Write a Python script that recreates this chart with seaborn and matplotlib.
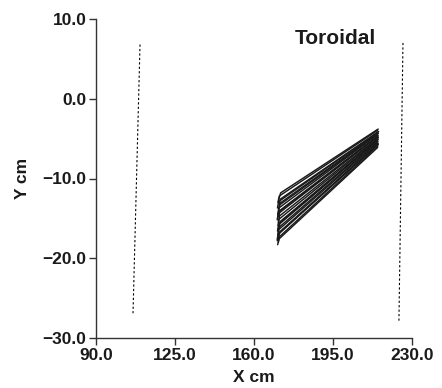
import numpy as np
import pandas as pd
import matplotlib
matplotlib.use("Agg")
import matplotlib.pyplot as plt
import seaborn as sns

# Boundary (dotted) lines: x, y endpoints
wall_left_x = [109.5, 106.4]
wall_left_y = [6.8, -26.9]
wall_right_x = [226.0, 224.2]
wall_right_y = [7.0, -28.0]

# Trajectory bundle: hook start, start and end points of each trajectory
hook_x = [171.0, 170.6, 171.2, 170.4, 170.9, 170.5, 171.0, 170.3, 170.8, 170.6, 171.1, 170.4,
          170.7, 170.5, 170.9, 170.3, 170.8, 170.5, 170.9, 170.4, 170.7, 170.3]
hook_y = [-12.6, -13.0, -13.4, -13.7, -14.1, -14.5, -14.8, -15.2, -15.5, -15.9, -16.2, -16.6,
          -16.9, -17.2, -17.5, -17.8, -18.0, -18.3, -13.9, -15.0, -16.4, -17.6]
left_x = [171.8, 171.2, 171.6, 170.9, 171.4, 171.0, 171.5, 170.8, 171.3, 171.1, 171.6, 170.9,
          171.2, 171.0, 171.4, 170.8, 171.3, 171.0, 171.5, 170.9, 171.2, 170.8]
left_y = [-11.8, -12.2, -12.6, -12.9, -13.3, -13.7, -14.0, -14.4, -14.7, -15.1, -15.4, -15.8,
          -16.1, -16.4, -16.7, -17.0, -17.3, -17.6, -13.1, -14.2, -15.6, -16.9]
right_x = [215.0, 214.8, 215.2, 214.9, 215.1, 214.7, 215.0, 214.8, 215.1, 214.9, 215.0, 214.7,
           214.9, 214.8, 215.0, 214.7, 214.9, 214.8, 215.0, 214.9, 214.8, 215.1]
right_y = [-3.8, -3.95, -4.1, -4.2, -4.35, -4.5, -4.6, -4.75, -4.85, -5.0, -5.1, -5.25,
           -5.35, -5.5, -5.6, -5.75, -5.9, -6.1, -4.3, -4.7, -5.2, -5.7]

x_ticks = [90.0, 125.0, 160.0, 195.0, 230.0]
y_ticks = [-30.0, -20.0, -10.0, 0.0, 10.0]
title_text = "Toroidal"

sns.set_theme(style="ticks")
plt.rcParams['font.family'] = ['Liberation Sans', 'DejaVu Sans']
plt.rcParams['font.weight'] = 'bold'

fig = plt.figure(figsize=(4.42, 3.88), dpi=100)
ax = fig.add_axes([96/442, 1-338/388, 316/442, 319/388])

rows = []
for i in range(len(left_x)):
    rows.append({"traj": i, "step": 0, "x": hook_x[i], "y": hook_y[i]})
    rows.append({"traj": i, "step": 1, "x": left_x[i], "y": left_y[i]})
    rows.append({"traj": i, "step": 2, "x": right_x[i], "y": right_y[i]})
df = pd.DataFrame(rows)
sns.lineplot(data=df, x="x", y="y", units="traj", estimator=None, sort=False,
             color="#1a1a1a", linewidth=1.05, ax=ax, legend=False)

walls = pd.DataFrame({
    "x": wall_left_x + wall_right_x,
    "y": wall_left_y + wall_right_y,
    "w": ["L", "L", "R", "R"],
})
for name, g in walls.groupby("w"):
    sns.lineplot(data=g, x="x", y="y", sort=False, estimator=None, color="black",
                 linewidth=0.8, linestyle=(0, (2, 2)), ax=ax, legend=False)

ax.set_xlim(90, 230)
ax.set_ylim(-30, 10)
ax.set_xticks(x_ticks)
ax.set_yticks(y_ticks)
ax.set_xticklabels([f"{v:.1f}".replace("-", "\u2212") for v in x_ticks], fontsize=12.5, fontweight='bold')
ax.set_yticklabels([f"{v:.1f}".replace("-", "\u2212") for v in y_ticks], fontsize=12.5, fontweight='bold')
ax.tick_params(direction='out', length=5, width=1, color='#333333', pad=2, labelcolor='#1a1a1a')
for s in ['top', 'right']:
    ax.spines[s].set_visible(False)
for s in ['left', 'bottom']:
    ax.spines[s].set_linewidth(1)
    ax.spines[s].set_color('#333333')
ax.set_xlabel("X cm", fontsize=12.5, fontweight='bold', labelpad=5, color='#1a1a1a')
ax.set_ylabel("Y cm", fontsize=12.5, fontweight='bold', labelpad=9, color='#1a1a1a')
ax.text(196, 7.5, title_text, fontsize=15, fontweight='bold', ha='center', va='center', color='#1a1a1a')

fig.savefig("out.png", dpi=100)
